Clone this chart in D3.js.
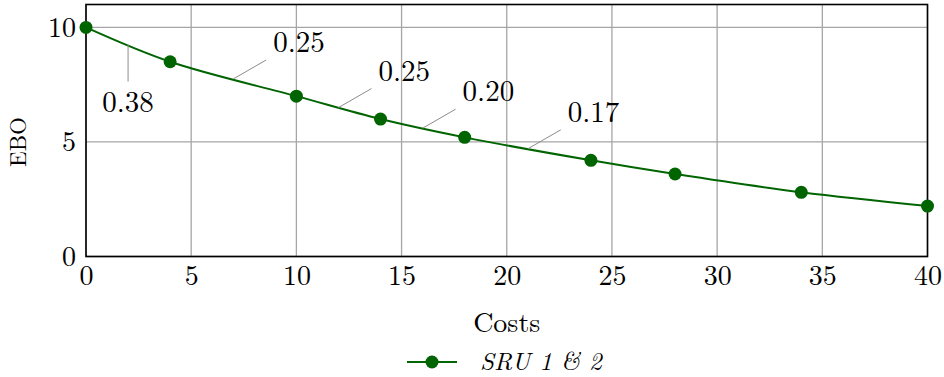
<!DOCTYPE html>
<html>
<head>
<meta charset="utf-8">
<script src="https://cdn.jsdelivr.net/npm/d3@7"></script>
<style>
  body { margin: 0; background: #fff; }
  text { font-family: "Latin Modern Roman", "Liberation Serif", serif; fill: #000; }
</style>
</head>
<body>
<div id="chart"></div>
<script>
var svgWidth = 944;
var svgHeight = 377;

var margin = { top: 4.5, right: 16.5, bottom: 120.5, left: 86 };
var width = svgWidth - margin.left - margin.right;
var height = svgHeight - margin.top - margin.bottom;

// data
var costs = [0, 4, 10, 14, 18, 24, 28, 34, 40];
var ebo = [10, 8.5, 7, 6, 5.2, 4.2, 3.6, 2.8, 2.2];
var xTicks = [0, 5, 10, 15, 20, 25, 30, 35, 40];
var yTicks = [0, 5, 10];
var seriesName = "SRU 1 & 2";

// slope annotations: position on curve and label
var slopeAt = [2, 7, 12, 16, 21];
var slopeLabels = ["0.38", "0.25", "0.25", "0.20", "0.17"];

var green = "#006400";

var svg = d3.select("#chart")
  .append("svg")
  .attr("width", svgWidth)
  .attr("height", svgHeight);

var chartGroup = svg.append("g")
  .attr("transform", `translate(${margin.left}, ${margin.top})`);

var xScale = d3.scaleLinear().domain([0, 40]).range([0, width]);
var yScale = d3.scaleLinear().domain([0, 11]).range([height, 0]);

// grid
chartGroup.selectAll(".vgrid")
  .data(xTicks)
  .enter()
  .append("line")
  .attr("x1", d => xScale(d)).attr("x2", d => xScale(d))
  .attr("y1", 0).attr("y2", height)
  .attr("stroke", "#a6a6a6").attr("stroke-width", 1.3);

chartGroup.selectAll(".hgrid")
  .data(yTicks)
  .enter()
  .append("line")
  .attr("x1", 0).attr("x2", width)
  .attr("y1", d => yScale(d)).attr("y2", d => yScale(d))
  .attr("stroke", "#a6a6a6").attr("stroke-width", 1.3);

// axes (labels only, frame drawn separately)
var bottomAxis = d3.axisBottom(xScale).tickValues(xTicks).tickSize(0).tickPadding(9);
var leftAxis = d3.axisLeft(yScale).tickValues(yTicks).tickSize(0).tickPadding(10);

var xAxis = chartGroup.append("g")
  .attr("transform", `translate(0, ${height})`)
  .call(bottomAxis);
var yAxis = chartGroup.append("g").call(leftAxis);

[xAxis, yAxis].forEach(function(ax) {
  ax.select(".domain").remove();
  ax.selectAll("text")
    .attr("font-size", 28)
    .attr("font-family", null)
    .attr("fill", "#000");
});

// frame
chartGroup.append("rect")
  .attr("width", width).attr("height", height)
  .attr("fill", "none").attr("stroke", "#000").attr("stroke-width", 1.6);

// curve
var pts = costs.map((c, i) => [c, ebo[i]]);
var line = d3.line()
  .x(d => xScale(d[0]))
  .y(d => yScale(d[1]))
  .curve(d3.curveCatmullRom.alpha(0.5));

chartGroup.append("path")
  .datum(pts)
  .attr("d", line)
  .attr("fill", "none")
  .attr("stroke", green)
  .attr("stroke-width", 2);

chartGroup.selectAll(".dot")
  .data(pts)
  .enter()
  .append("circle")
  .attr("cx", d => xScale(d[0]))
  .attr("cy", d => yScale(d[1]))
  .attr("r", 6.5)
  .attr("fill", green);

// slope pins
function eboAt(x) {
  var i = d3.bisectRight(costs, x) - 1;
  i = Math.max(0, Math.min(i, costs.length - 2));
  var t = (x - costs[i]) / (costs[i + 1] - costs[i]);
  return ebo[i] + t * (ebo[i + 1] - ebo[i]);
}

slopeAt.forEach(function(x, i) {
  var px = xScale(x), py = yScale(eboAt(x));
  if (i === 0) {
    chartGroup.append("line")
      .attr("x1", px).attr("y1", py)
      .attr("x2", px).attr("y2", py + 37)
      .attr("stroke", "#8c8c8c").attr("stroke-width", 1);
    chartGroup.append("text")
      .attr("x", px).attr("y", py + 67)
      .attr("text-anchor", "middle")
      .attr("font-size", 29)
      .text(slopeLabels[i]);
  } else {
    chartGroup.append("line")
      .attr("x1", px).attr("y1", py)
      .attr("x2", px + 33).attr("y2", py - 19)
      .attr("stroke", "#8c8c8c").attr("stroke-width", 1);
    chartGroup.append("text")
      .attr("x", px + 40).attr("y", py - 27)
      .attr("font-size", 29)
      .text(slopeLabels[i]);
  }
});

// axis titles
svg.append("text")
  .attr("x", margin.left + width / 2)
  .attr("y", 332)
  .attr("text-anchor", "middle")
  .attr("font-size", 28)
  .text("Costs");

svg.append("text")
  .attr("transform", `translate(26, ${margin.top + yScale(5)}) rotate(-90)`)
  .attr("text-anchor", "middle")
  .attr("font-size", 23)
  .text("EBO");

// legend
var legend = svg.append("g").attr("transform", "translate(407, 362)");
legend.append("line")
  .attr("x1", 0).attr("x2", 50)
  .attr("stroke", green).attr("stroke-width", 2);
legend.append("circle")
  .attr("cx", 25).attr("r", 6.5).attr("fill", green);
legend.append("text")
  .attr("x", 73).attr("y", 8)
  .attr("font-size", 25)
  .attr("font-style", "italic")
  .text(seriesName);
</script>
</body>
</html>
